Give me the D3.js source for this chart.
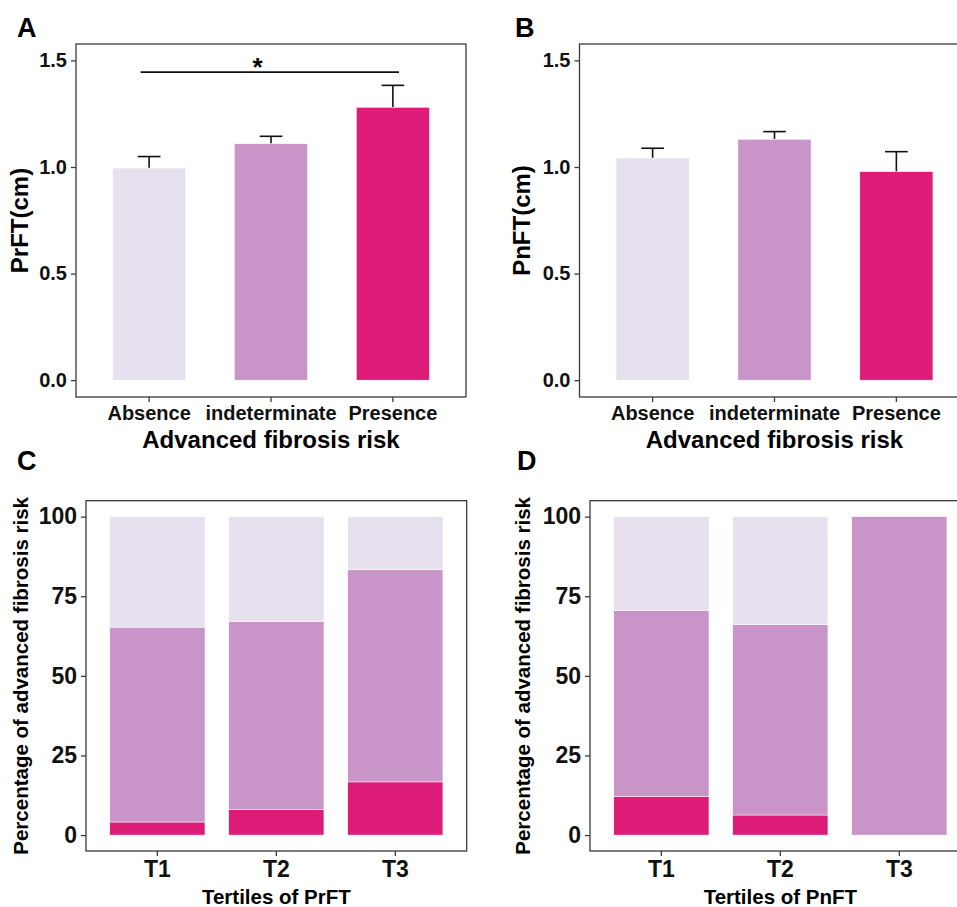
<!DOCTYPE html>
<html>
<head>
<meta charset="utf-8">
<script src="https://cdn.jsdelivr.net/npm/d3@7"></script>
<style>
  body { margin: 0; background: #fff; }
  svg { font-family: "Liberation Sans", Arial, sans-serif; font-weight: bold; }
</style>
</head>
<body>
<div id="chart"></div>
<script>
// risk groups and colours
var riskGroups = ["Absence", "indeterminate", "Presence"];
var riskColors = ["#E7E1EF", "#C994C7", "#DD1C77"];

// panel A: PrFT by fibrosis risk (mean, se)
var prftMean = [0.995, 1.109, 1.280];
var prftSe = [0.054, 0.035, 0.103];
// significance bar, positions in category units (1..3)
var prftSig = { from: 0.93, to: 3.05, y: 1.445, labelAt: 1.89, label: "*" };

// panel B: PnFT by fibrosis risk
var pnftMean = [1.042, 1.130, 0.978];
var pnftSe = [0.046, 0.036, 0.094];

var yTicksCm = [0, 0.5, 1.0, 1.5];

// panels C/D: percentage of each risk group per tertile
var tertiles = ["T1", "T2", "T3"];
var prftPresence = [4.1, 8.0, 16.7];
var prftIndeterminate = [61.2, 59.1, 66.6];
var prftAbsence = [34.7, 32.9, 16.7];

var pnftPresence = [12.2, 6.3, 0];
var pnftIndeterminate = [58.4, 59.8, 100];
var pnftAbsence = [29.4, 33.9, 0];

var yTicksPct = [0, 25, 50, 75, 100];

var W = 957, H = 907;
var svg = d3.select("#chart").append("svg")
  .attr("width", W)
  .attr("height", H);

var color = d3.scaleOrdinal().domain(riskGroups).range(riskColors);

function drawFrame(g, box) {
  g.append("rect")
    .attr("x", box.left)
    .attr("y", box.top)
    .attr("width", box.right - box.left)
    .attr("height", box.bottom - box.top)
    .attr("fill", "none")
    .attr("stroke", "#3a3a3a")
    .attr("stroke-width", 1.3);
}

function styleAxis(ax, fontSize) {
  ax.select(".domain").remove();
  ax.selectAll(".tick line").attr("stroke", "#3a3a3a").attr("stroke-width", 1.3);
  ax.selectAll(".tick text")
    .attr("fill", "#111")
    .style("font-size", fontSize + "px")
    .style("font-weight", "bold")
    .style("font-family", "\"Liberation Sans\", Arial, sans-serif");
}

function drawMeanPanel(opt) {
  var box = opt.box;
  var g = svg.append("g");

  var x = d3.scaleBand()
    .domain(riskGroups)
    .range([box.left, box.right])
    .paddingInner(0.4)
    .paddingOuter(0.3);
  var xu = d3.scaleLinear().domain([0.4, 3.6]).range([box.left, box.right]);
  var y = d3.scaleLinear().domain([-0.079, 1.577]).range([box.bottom, box.top]);

  var data = riskGroups.map(function(k, i) {
    return { key: k, mean: opt.mean[i], se: opt.se[i] };
  });

  // error bars (upper half only)
  var capW = x.bandwidth() * 0.31;
  var eb = g.append("g").selectAll("g").data(data).enter().append("g");
  eb.append("line")
    .attr("x1", function(d) { return x(d.key) + x.bandwidth() / 2; })
    .attr("x2", function(d) { return x(d.key) + x.bandwidth() / 2; })
    .attr("y1", function(d) { return y(d.mean); })
    .attr("y2", function(d) { return y(d.mean + d.se); })
    .attr("stroke", "#111").attr("stroke-width", 1.6);
  eb.append("line")
    .attr("x1", function(d) { return x(d.key) + x.bandwidth() / 2 - capW / 2; })
    .attr("x2", function(d) { return x(d.key) + x.bandwidth() / 2 + capW / 2; })
    .attr("y1", function(d) { return y(d.mean + d.se); })
    .attr("y2", function(d) { return y(d.mean + d.se); })
    .attr("stroke", "#111").attr("stroke-width", 1.6);

  g.append("g").selectAll("rect").data(data).enter().append("rect")
    .attr("x", function(d) { return x(d.key); })
    .attr("y", function(d) { return y(d.mean); })
    .attr("width", x.bandwidth())
    .attr("height", function(d) { return y(0) - y(d.mean); })
    .attr("fill", function(d) { return color(d.key); })
    .attr("stroke", "#fff").attr("stroke-width", 0.5);

  if (opt.sig) {
    g.append("line")
      .attr("x1", xu(opt.sig.from)).attr("x2", xu(opt.sig.to))
      .attr("y1", y(opt.sig.y)).attr("y2", y(opt.sig.y))
      .attr("stroke", "#111").attr("stroke-width", 1.6);
    g.append("text")
      .attr("x", xu(opt.sig.labelAt))
      .attr("y", y(opt.sig.y) + 4)
      .attr("text-anchor", "middle")
      .style("font-size", "26px")
      .text(opt.sig.label);
  }

  drawFrame(g, box);

  var ay = g.append("g")
    .attr("transform", "translate(" + box.left + ",0)")
    .call(d3.axisLeft(y).tickValues(yTicksCm).tickSize(5).tickPadding(4).tickFormat(d3.format(".1f")));
  styleAxis(ay, 20);

  var ax = g.append("g")
    .attr("transform", "translate(0," + box.bottom + ")")
    .call(d3.axisBottom(x).tickSize(5).tickPadding(3));
  styleAxis(ax, 20);
  ax.selectAll(".tick text").attr("dy", "0.71em").attr("y", 9);

  g.append("text")
    .attr("x", (box.left + box.right) / 2)
    .attr("y", box.bottom + 51)
    .attr("text-anchor", "middle")
    .style("font-size", "24px")
    .text("Advanced fibrosis risk");

  g.append("text")
    .attr("transform", "translate(" + opt.yTitleX + "," + ((box.top + box.bottom) / 2) + ") rotate(-90)")
    .attr("text-anchor", "middle")
    .attr("dy", "0.35em")
    .style("font-size", "24px")
    .text(opt.yTitle);

  g.append("text")
    .attr("x", opt.labelX).attr("y", 37)
    .style("font-size", "27px")
    .text(opt.label);
}

function drawStackPanel(opt) {
  var box = opt.box;
  var g = svg.append("g");

  var x = d3.scaleBand()
    .domain(tertiles)
    .range([box.left, box.right])
    .paddingInner(0.2)
    .paddingOuter(0.2);
  var y = d3.scaleLinear().domain([-5, 105]).range([box.bottom, box.top]);

  var rows = tertiles.map(function(t, i) {
    return { tertile: t, Presence: opt.presence[i], indeterminate: opt.indeterminate[i], Absence: opt.absence[i] };
  });
  var series = d3.stack().keys(["Presence", "indeterminate", "Absence"])(rows);

  g.append("g").selectAll("g").data(series).enter().append("g")
    .attr("fill", function(d) { return color(d.key); })
    .selectAll("rect")
    .data(function(d) { return d.filter(function(s) { return s[1] > s[0]; }); })
    .enter().append("rect")
    .attr("x", function(d) { return x(d.data.tertile); })
    .attr("y", function(d) { return y(d[1]); })
    .attr("width", x.bandwidth())
    .attr("height", function(d) { return y(d[0]) - y(d[1]); })
    .attr("stroke", "#fff").attr("stroke-width", 0.5);

  drawFrame(g, box);

  var ay = g.append("g")
    .attr("transform", "translate(" + box.left + ",0)")
    .call(d3.axisLeft(y).tickValues(yTicksPct).tickSize(5).tickPadding(4));
  styleAxis(ay, 23);

  var ax = g.append("g")
    .attr("transform", "translate(0," + box.bottom + ")")
    .call(d3.axisBottom(x).tickSize(5).tickPadding(3));
  styleAxis(ax, 23);
  ax.selectAll(".tick text").attr("dy", "0.71em").attr("y", 10);

  g.append("text")
    .attr("x", (box.left + box.right) / 2)
    .attr("y", box.bottom + 53)
    .attr("text-anchor", "middle")
    .style("font-size", "20.5px")
    .text(opt.xTitle);

  g.append("text")
    .attr("transform", "translate(" + opt.yTitleX + "," + ((box.top + box.bottom) / 2) + ") rotate(-90)")
    .attr("text-anchor", "middle")
    .attr("dy", "0.35em")
    .style("font-size", "20.5px")
    .text("Percentage of advanced fibrosis risk");

  g.append("text")
    .attr("x", opt.labelX).attr("y", 470)
    .style("font-size", "27px")
    .text(opt.label);
}

drawMeanPanel({
  box: { left: 76, right: 466, top: 44, bottom: 397 },
  mean: prftMean, se: prftSe, sig: prftSig,
  yTitle: "PrFT(cm)", yTitleX: 20, label: "A", labelX: 17
});
drawMeanPanel({
  box: { left: 579.5, right: 969.5, top: 44, bottom: 397 },
  mean: pnftMean, se: pnftSe, sig: null,
  yTitle: "PnFT(cm)", yTitleX: 522, label: "B", labelX: 515
});
drawStackPanel({
  box: { left: 86, right: 466.7, top: 500.7, bottom: 851 },
  presence: prftPresence, indeterminate: prftIndeterminate, absence: prftAbsence,
  xTitle: "Tertiles of PrFT", yTitleX: 21, label: "C", labelX: 17
});
drawStackPanel({
  box: { left: 590, right: 970.7, top: 500.7, bottom: 851 },
  presence: pnftPresence, indeterminate: pnftIndeterminate, absence: pnftAbsence,
  xTitle: "Tertiles of PnFT", yTitleX: 523, label: "D", labelX: 517
});
</script>
</body>
</html>
